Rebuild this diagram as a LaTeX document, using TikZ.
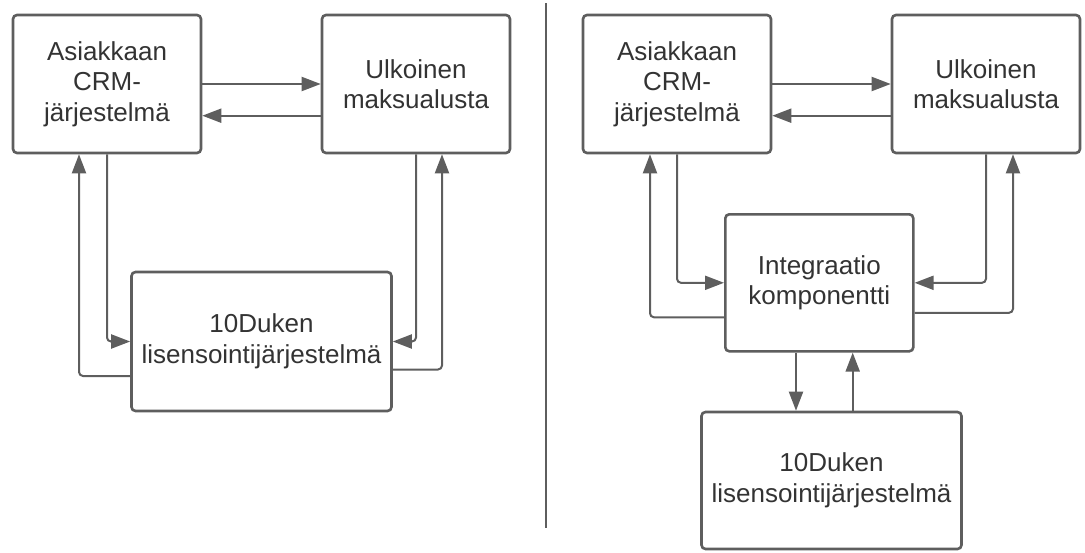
\documentclass[tikz,border=0pt]{standalone}
\usepackage{fontspec}
\setmainfont{Liberation Sans}
\usetikzlibrary{arrows.meta}
\definecolor{edge}{HTML}{5E5E5E}
\definecolor{txt}{HTML}{333333}
\begin{document}
\begin{tikzpicture}[x=1pt,y=-1pt,
  box/.style={draw=edge,line width=2.6pt,rounded corners=4pt,fill=white,
    minimum width=188pt,minimum height=138pt,inner sep=0pt,align=center,
    text=txt,font=\fontsize{26}{30.5}\selectfont},
  widebox/.style={box,minimum width=260pt},
  conn/.style={draw=edge,line width=2pt,rounded corners=4pt,
    -{Triangle[length=19pt,width=14pt]}},
  divline/.style={draw=edge,line width=2pt}]
\useasboundingbox (0,0) rectangle (1085,552);
% left diagram
\node[box] (A) at (107,84) {Asiakkaan\\CRM-\\järjestelmä};
\node[box] (U) at (416,84) {Ulkoinen\\maksualusta};
\node[widebox,minimum height=139pt] (D) at (261.5,341.5) {10Duken\\lisensointijärjestelmä};
\draw[conn] (A.east) -- (U.west);
\draw[conn] ([yshift=-31.7pt]U.west) -- ([yshift=-31.7pt]A.east);
\draw[conn] (A.south) |- (D.west);
\draw[conn] ([yshift=-34.5pt]D.west) -| ([xshift=-28pt]A.south);
\draw[conn] (U.south) |- (D.east);
\draw[conn] ([yshift=-28pt]D.east) -| ([xshift=26pt]U.south);
% divider
\coordinate (dt) at (546,3);
\coordinate (db) at (546,528);
\draw[divline] (dt) -- (db);
% right diagram
\node[box] (A2) at (677,84) {Asiakkaan\\CRM-\\järjestelmä};
\node[box] (U2) at (986,84) {Ulkoinen\\maksualusta};
\node[box,minimum height=137pt] (I) at (819.3,282.8) {Integraatio\\komponentti};
\node[widebox,minimum height=137pt] (D2) at (831.5,480.5) {10Duken\\lisensointijärjestelmä};
\draw[conn] (A2.east) -- (U2.west);
\draw[conn] ([yshift=-31.7pt]U2.west) -- ([yshift=-31.7pt]A2.east);
\draw[conn] (A2.south) |- (I.west);
\draw[conn] ([yshift=-34.5pt]I.west) -| ([xshift=-27pt]A2.south);
\draw[conn] (U2.south) |- (I.east);
\draw[conn] ([yshift=-30pt]I.east) -| ([xshift=27pt]U2.south);
\draw[conn] ([xshift=-23.3pt]I.south) -- ([xshift=-23.3pt]I.south |- D2.north);
\draw[conn] ([xshift=33.4pt]I.south |- D2.north) -- ([xshift=33.4pt]I.south);
\end{tikzpicture}
\end{document}
